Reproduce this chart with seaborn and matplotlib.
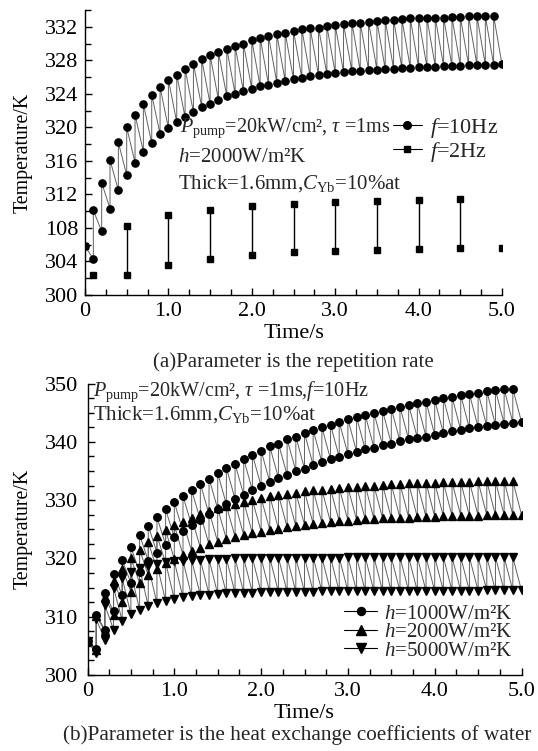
import matplotlib
matplotlib.use("Agg")
import matplotlib.pyplot as plt
import seaborn as sns
from matplotlib.lines import Line2D
from matplotlib.ticker import MultipleLocator, FixedLocator, FixedFormatter

# ---------------- data ----------------
T_START = 0.0
START_VALUE = 305.8
T_PULSE = [0.1, 0.2, 0.3, 0.4, 0.5, 0.6, 0.7, 0.8, 0.9, 1.0,
           1.1, 1.2, 1.3, 1.4, 1.5, 1.6, 1.7, 1.8, 1.9, 2.0,
           2.1, 2.2, 2.3, 2.4, 2.5, 2.6, 2.7, 2.8, 2.9, 3.0,
           3.1, 3.2, 3.3, 3.4, 3.5, 3.6, 3.7, 3.8, 3.9, 4.0,
           4.1, 4.2, 4.3, 4.4, 4.5, 4.6, 4.7, 4.8, 4.9]
T_END = 5.0

# panel (a) f = 10 Hz  (also h = 2000 in panel b)
F10_UPPER = [310.1, 313.4, 316.1, 318.2, 320.0, 321.5, 322.8, 323.9, 324.8, 325.7,
             326.3, 327.0, 327.6, 328.1, 328.6, 329.0, 329.4, 329.7, 330.0, 330.4,
             330.7, 330.9, 331.1, 331.3, 331.5, 331.7, 331.8, 331.9, 332.1, 332.2,
             332.3, 332.5, 332.5, 332.6, 332.7, 332.8, 332.85, 332.9, 333.0, 333.0,
             333.05, 333.1, 333.1, 333.15, 333.2, 333.25, 333.25, 333.3, 333.3]
F10_LOWER = [304.3, 307.6, 310.3, 312.5, 314.3, 315.8, 317.1, 318.1, 319.2, 319.9,
             320.6, 321.2, 321.8, 322.4, 322.8, 323.3, 323.7, 324.0, 324.3, 324.6,
             324.9, 325.1, 325.35, 325.55, 325.75, 325.9, 326.1, 326.2, 326.35, 326.5,
             326.6, 326.7, 326.75, 326.85, 326.9, 326.95, 327.0, 327.05, 327.1, 327.15,
             327.2, 327.25, 327.3, 327.3, 327.35, 327.4, 327.4, 327.45, 327.45, 327.5]

# panel (a) f = 2 Hz
F2_TIMES = [0.1, 0.5, 1.0, 1.5, 2.0, 2.5, 3.0, 3.5, 4.0, 4.5, 5.0]
F2_LOWER = [302.4, 302.4, 303.6, 304.3, 304.8, 305.1, 305.3, 305.4, 305.5, 305.6, 305.6]
F2_PULSE_TIMES = [0.5, 1.0, 1.5, 2.0, 2.5, 3.0, 3.5, 4.0, 4.5]
F2_UPPER = [308.2, 309.5, 310.2, 310.6, 310.9, 311.05, 311.2, 311.3, 311.4]

# panel (b)
H1000_UPPER = [310.3, 314.0, 317.3, 319.7, 321.9, 324.0, 325.6, 327.1, 328.4, 329.6,
               330.7, 331.7, 332.8, 333.7, 334.6, 335.5, 336.2, 337.0, 337.8, 338.5,
               339.2, 339.7, 340.4, 340.9, 341.5, 342.0, 342.5, 342.9, 343.4, 343.9,
               344.2, 344.6, 345.0, 345.3, 345.7, 346.0, 346.3, 346.6, 346.9, 347.2,
               347.5, 347.7, 348.0, 348.2, 348.4, 348.7, 348.9, 349.0, 349.1]
H1000_LOWER = [304.4, 307.8, 310.9, 313.7, 315.8, 317.7, 319.6, 321.0, 322.3, 323.6,
               324.7, 325.7, 326.6, 327.6, 328.5, 329.3, 330.2, 330.9, 331.7, 332.4,
               333.1, 333.8, 334.3, 335.0, 335.4, 336.0, 336.5, 337.0, 337.4, 337.9,
               338.3, 338.7, 339.0, 339.4, 339.7, 340.1, 340.4, 340.7, 340.9, 341.2,
               341.5, 341.8, 342.0, 342.3, 342.5, 342.7, 342.9, 343.1, 343.3, 343.4]
H2000_UPPER = F10_UPPER
H2000_LOWER = F10_LOWER
H5000_UPPER = [309.6, 312.0, 315.0, 316.6, 317.6, 318.3, 318.7, 319.0, 319.3, 319.5,
               319.6, 319.7, 319.8, 319.85, 319.9, 319.95, 320.0, 320.0, 320.05, 320.05,
               320.1, 320.1, 320.1, 320.1, 320.15, 320.15, 320.15, 320.15, 320.15, 320.2,
               320.2, 320.2, 320.2, 320.2, 320.2, 320.2, 320.2, 320.2, 320.2, 320.2,
               320.2, 320.2, 320.2, 320.2, 320.2, 320.2, 320.2, 320.2, 320.2]
H5000_LOWER = [303.7, 306.0, 307.8, 309.3, 310.4, 311.2, 311.8, 312.3, 312.7, 313.0,
               313.3, 313.5, 313.7, 313.8, 313.9, 314.0, 314.05, 314.1, 314.15, 314.2,
               314.2, 314.25, 314.25, 314.3, 314.3, 314.3, 314.35, 314.35, 314.35, 314.4,
               314.4, 314.4, 314.4, 314.4, 314.4, 314.4, 314.4, 314.4, 314.4, 314.4,
               314.45, 314.45, 314.45, 314.45, 314.45, 314.5, 314.5, 314.5, 314.5, 314.5]

YTICKS_A = [300, 304, 308, 312, 316, 320, 324, 328, 332]
YTICKLABELS_A = ["300", "304", "108", "312", "316", "320", "324", "328", "332"]
YTICKS_B = [300, 310, 320, 330, 340, 350]
XTICKS = [0, 1, 2, 3, 4, 5]
XTICKLABELS = ["0", "1.0", "2.0", "3.0", "4.0", "5.0"]

# ---------------- style ----------------
sns.set_theme(style="ticks")
plt.rcParams["font.family"] = ["Liberation Serif", "DejaVu Serif"]
plt.rcParams["mathtext.fontset"] = "custom"
plt.rcParams["mathtext.rm"] = "Liberation Serif"
plt.rcParams["mathtext.it"] = "Liberation Serif:italic"
plt.rcParams["axes.linewidth"] = 1.0
FS = 15
FS_TICK = 16

W, H = 538, 751
fig = plt.figure(figsize=(W / 100, H / 100), dpi=100)


def fx(px):
    return px / W


def fy(py):
    return 1 - py / H


def zigzag(upper, lower):
    xs, ys = [T_START], [START_VALUE]
    for i, t in enumerate(T_PULSE):
        xs += [t, t]
        ys += [lower[i], upper[i]]
    xs.append(T_END)
    ys.append(lower[-1])
    return xs, ys


def style_axes(ax, ymin):
    for s in ["top", "right"]:
        ax.spines[s].set_visible(False)
    ax.spines["left"].set_color("black")
    ax.spines["bottom"].set_color("black")
    ax.xaxis.set_major_locator(FixedLocator(XTICKS))
    ax.xaxis.set_major_formatter(FixedFormatter(XTICKLABELS))
    ax.xaxis.set_minor_locator(MultipleLocator(0.25))
    ax.yaxis.set_minor_locator(MultipleLocator(ymin))
    ax.tick_params(which="both", direction="in", colors="black", labelsize=FS_TICK,
                   width=1.0)
    ax.tick_params(which="major", length=5, pad=5)
    ax.tick_params(which="minor", length=4)
    ax.set_facecolor("white")
    ax.grid(False)


LINE_C = "#606060"

# ---------------- panel (a) ----------------
A_L, A_R, A_T, A_B = 85, 502, 10, 295
axA = fig.add_axes([fx(A_L), fy(A_B), fx(A_R) - fx(A_L), fy(A_T) - fy(A_B)])
xs, ys = zigzag(F10_UPPER, F10_LOWER)
sns.lineplot(x=xs, y=ys, sort=False, estimator=None, ax=axA, color=LINE_C,
             linewidth=0.7)
axA.plot(xs, ys, linestyle="none", marker="o", markersize=5.2, color="black")

axA.vlines(F2_PULSE_TIMES, F2_LOWER[1:10], F2_UPPER, color="black", linewidth=1.0)
axA.plot(F2_TIMES, F2_LOWER, linestyle="none", marker="s", markersize=4.6, color="black")
axA.plot(F2_PULSE_TIMES, F2_UPPER, linestyle="none", marker="s", markersize=4.6, color="black")
axA.plot([T_START], [START_VALUE], linestyle="none", marker="s", markersize=4.6, color="black")

axA.set_xlim(0, 5.0)
axA.set_ylim(300, 334)
style_axes(axA, 2)
axA.yaxis.set_major_locator(FixedLocator(YTICKS_A))
axA.yaxis.set_major_formatter(FixedFormatter(YTICKLABELS_A))
axA.set_xlabel("Time/s", fontsize=FS_TICK, labelpad=2, color="black")
axA.set_ylabel("Temperature/K", fontsize=14.3, color="black")
axA.yaxis.set_label_coords((33 - A_L) / (A_R - A_L), 0.5)

fig.text(fx(180), fy(128), r"$P_{\mathrm{pump}}$=20kW/cm², $\tau$ =1ms", fontsize=14.5,
         va="center", ha="left")
fig.text(fx(178), fy(158), r"$h$=2000W/m²K", fontsize=FS, va="center", ha="left")
fig.text(fx(178), fy(184), r"Thick=1.6mm,$C_{\mathrm{Yb}}$=10%at", fontsize=FS,
         va="center", ha="left")

hA = [Line2D([], [], color="black", lw=0.8, marker="o", markersize=5.5),
      Line2D([], [], color="black", lw=0.8, marker="s", markersize=4.8)]
axA.legend(hA, [r"$f$=10Hz", r"$f$=2Hz"], loc="upper left",
           bbox_to_anchor=(fx(393), fy(116)), bbox_transform=fig.transFigure,
           frameon=False, fontsize=16, handlelength=1.3, handletextpad=0.35,
           labelspacing=0.0, borderpad=0, borderaxespad=0)

fig.text(fx(293), fy(362), "(a)Parameter is the repetition rate", fontsize=FS,
         ha="center", va="center")

# ---------------- panel (b) ----------------
B_L, B_R, B_T, B_B = 87.5, 521.5, 383.5, 675
axB = fig.add_axes([fx(B_L), fy(B_B), fx(B_R) - fx(B_L), fy(B_T) - fy(B_B)])
series_b = [(H1000_UPPER, H1000_LOWER, "o", 5.4),
            (H2000_UPPER, H2000_LOWER, "^", 6.3),
            (H5000_UPPER, H5000_LOWER, "v", 6.3)]
for up, lo, mk, ms in series_b:
    xs, ys = zigzag(up, lo)
    sns.lineplot(x=xs, y=ys, sort=False, estimator=None, ax=axB, color=LINE_C,
                 linewidth=0.7)
for up, lo, mk, ms in series_b:
    xs, ys = zigzag(up, lo)
    axB.plot(xs, ys, linestyle="none", marker=mk, markersize=ms, color="black")

axB.set_xlim(0, 5.0)
axB.set_ylim(300, 350)
style_axes(axB, 2.5)
axB.yaxis.set_major_locator(FixedLocator(YTICKS_B))
axB.tick_params(which="major", axis="y", pad=7)
axB.set_xlabel("Time/s", fontsize=FS_TICK, labelpad=2, color="black")
axB.set_ylabel("Temperature/K", fontsize=14.3, color="black")
axB.yaxis.set_label_coords((33 - B_L) / (B_R - B_L), 0.5)

fig.text(fx(93), fy(392), r"$P_{\mathrm{pump}}$=20kW/cm², $\tau$ =1ms,$f$=10Hz",
         fontsize=14.5, va="center", ha="left")
fig.text(fx(93), fy(415), r"Thick=1.6mm,$C_{\mathrm{Yb}}$=10%at", fontsize=FS,
         va="center", ha="left")

hB = [Line2D([], [], color="black", lw=0.8, marker="o", markersize=5.8),
      Line2D([], [], color="black", lw=0.8, marker="^", markersize=6.5),
      Line2D([], [], color="black", lw=0.8, marker="v", markersize=6.5)]
axB.legend(hB, [r"$h$=1000W/m²K", r"$h$=2000W/m²K", r"$h$=5000W/m²K"],
           loc="upper left", bbox_to_anchor=(fx(344), fy(604)),
           bbox_transform=fig.transFigure, frameon=False, fontsize=FS,
           handlelength=1.6, handletextpad=0.3, labelspacing=-0.05,
           borderpad=0, borderaxespad=0)

fig.text(fx(297), fy(735), "(b)Parameter is the heat exchange coefficients of water",
         fontsize=15.3, ha="center", va="center")

fig.savefig("out.png", dpi=100, facecolor="white")
